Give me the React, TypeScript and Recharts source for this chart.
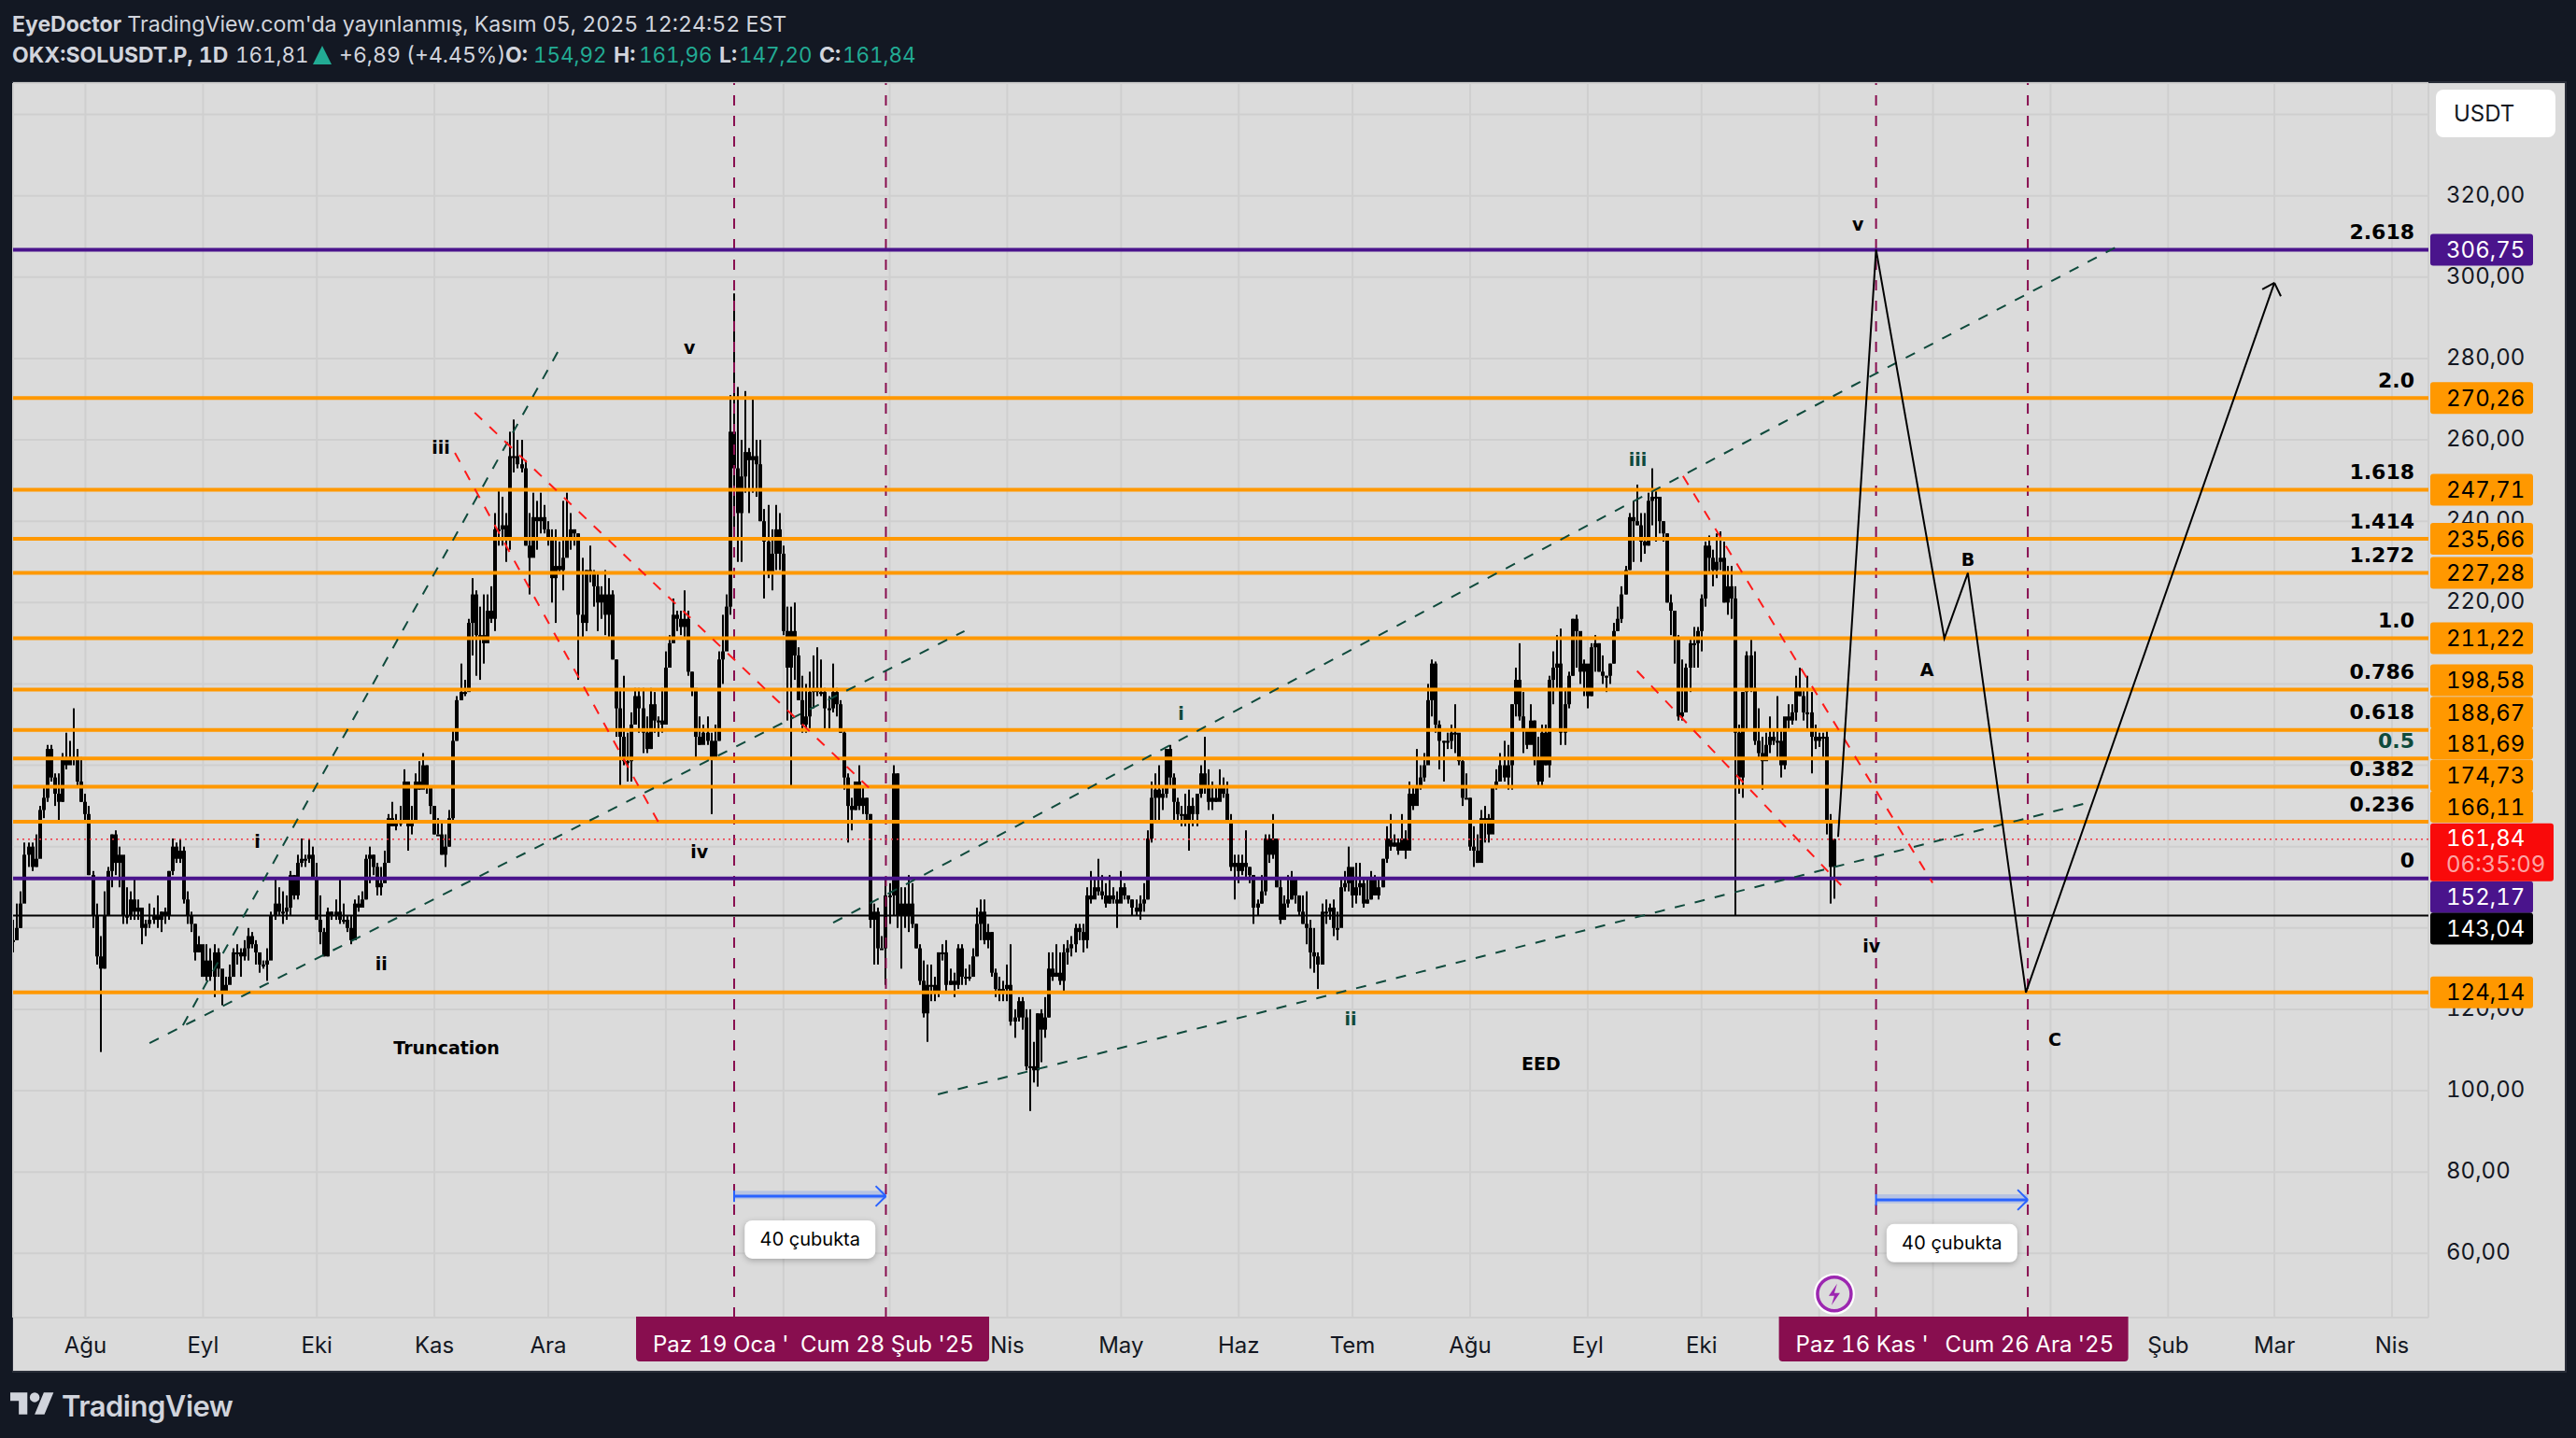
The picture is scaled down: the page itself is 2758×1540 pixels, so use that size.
import { Bar, CartesianGrid, ComposedChart, Line, ReferenceArea, ReferenceDot, ReferenceLine, XAxis, YAxis } from 'recharts';

// Daily candles of SOLUSDT.P. Day 0 is 19 Jan 2025.
const FIRST_DAY = -190;

const closes = [
  137, 140, 146, 158, 160, 155, 157, 169, 172, 184,
  177, 173, 171, 182, 180, 182, 182, 176, 171, 168,
  153, 143, 133, 130, 143, 154, 163, 156, 158, 143,
  143, 147, 144, 145, 140, 141, 142, 143, 142, 144,
  143, 154, 160, 157, 159, 147, 143, 141, 134, 136,
  128, 132, 128, 134, 130, 124, 126, 128, 134, 134,
  133, 135, 138, 136, 134, 131, 131, 132, 143, 146,
  144, 144, 145, 153, 148, 156, 157, 157, 158, 152,
  142, 139, 133, 144, 143, 144, 142, 142, 140, 137,
  146, 145, 147, 157, 158, 155, 150, 151, 156, 167,
  165, 166, 166, 176, 165, 166, 176, 174, 180, 175,
  170, 163, 163, 158, 160, 167, 186, 196, 198, 198,
  215, 222, 212, 212, 210, 218, 216, 238, 238, 239,
  236, 256, 256, 254, 253, 234, 231, 241, 240, 241,
  238, 236, 226, 229, 228, 231, 236, 238, 237, 217,
  215, 228, 227, 224, 220, 222, 217, 222, 206, 194,
  187, 181, 181, 190, 197, 194, 188, 184, 195, 191,
  191, 190, 204, 210, 217, 216, 214, 216, 203, 199,
  187, 185, 188, 186, 182, 186, 206, 208, 219, 262,
  253, 242, 251, 257, 255, 256, 254, 240, 235, 227,
  232, 238, 232, 213, 204, 213, 207, 196, 190, 192,
  198, 199, 198, 198, 194, 194, 198, 195, 188, 177,
  170, 169, 176, 170, 172, 168, 142, 144, 135, 135,
  148, 148, 178, 143, 146, 143, 146, 141, 135, 127,
  119, 126, 126, 124, 134, 134, 126, 127, 126, 135,
  128, 128, 128, 133, 141, 144, 137, 139, 129, 125,
  125, 125, 126, 117, 118, 122, 118, 106, 106, 105,
  119, 115, 118, 130, 128, 129, 127, 134, 135, 136,
  140, 139, 137, 148, 147, 150, 149, 148, 146, 148,
  147, 146, 150, 148, 147, 145, 144, 146, 147, 162,
  172, 174, 172, 173, 184, 177, 171, 168, 168, 166,
  170, 168, 173, 178, 175, 171, 172, 171, 175, 173,
  166, 155, 156, 154, 156, 155, 153, 145, 146, 149,
  162, 158, 162, 150, 142, 146, 147, 152, 148, 144,
  141, 140, 134, 133, 131, 144, 144, 145, 140, 140,
  150, 151, 155, 148, 150, 151, 146, 147, 152, 148,
  150, 157, 162, 160, 161, 159, 162, 159, 173, 170,
  175, 177, 180, 196, 205, 190, 186, 186, 186, 188,
  188, 181, 172, 172, 160, 159, 156, 167, 167, 163,
  175, 176, 180, 177, 180, 195, 201, 192, 189, 185,
  191, 182, 176, 188, 180, 201, 204, 205, 188, 195,
  202, 216, 213, 203, 205, 197, 209, 210, 203, 202,
  202, 205, 213, 216, 222, 228, 241, 240, 239, 235,
  234, 245, 246, 246, 240, 237, 220, 218, 211, 192,
  193, 204, 210, 210, 213, 221, 234, 231, 228, 230,
  231, 220, 224, 221, 188, 177, 198, 207, 199, 186,
  183, 181, 185, 187, 186, 186, 180, 192, 191, 193,
  199, 197, 193, 193, 187, 186, 187, 187, 166, 155, 161.84,
];

const highs = [
  142, 146, 149, 161, 161, 161, 163, 170, 175, 185,
  185, 178, 178, 183, 188, 186, 194, 184, 182, 173,
  170, 154, 146, 138, 149, 155, 163, 164, 160, 155,
  150, 149, 152, 147, 145, 142, 146, 145, 148, 144,
  145, 154, 162, 161, 162, 160, 149, 144, 141, 138,
  135, 136, 135, 136, 135, 128, 128, 131, 135, 136,
  135, 137, 140, 139, 137, 133, 132, 135, 144, 152,
  150, 149, 148, 154, 153, 158, 162, 158, 162, 160,
  156, 148, 140, 145, 144, 147, 152, 146, 143, 143,
  147, 148, 149, 158, 160, 158, 156, 155, 159, 168,
  171, 168, 170, 179, 176, 170, 178, 181, 183, 180,
  175, 170, 167, 166, 163, 169, 189, 197, 205, 201,
  216, 226, 223, 219, 222, 222, 224, 242, 248, 246,
  242, 262, 265, 260, 260, 255, 242, 247, 245, 247,
  244, 240, 238, 238, 235, 245, 247, 242, 238, 237,
  231, 228, 234, 228, 227, 224, 228, 226, 223, 206,
  199, 202, 188, 193, 199, 199, 199, 192, 199, 198,
  192, 199, 208, 212, 221, 218, 218, 223, 218, 203,
  198, 192, 190, 192, 188, 190, 208, 217, 222, 271,
  296, 273, 260, 272, 258, 270, 260, 260, 243, 244,
  238, 244, 242, 234, 219, 219, 220, 209, 202, 200,
  203, 207, 209, 206, 199, 197, 205, 199, 196, 189,
  178, 172, 176, 180, 175, 172, 168, 146, 145, 138,
  152, 151, 180, 178, 150, 150, 153, 151, 141, 136,
  132, 131, 131, 128, 134, 136, 137, 130, 129, 136,
  136, 130, 131, 135, 145, 147, 147, 141, 139, 130,
  128, 127, 131, 136, 120, 123, 123, 120, 120, 112,
  119, 120, 123, 134, 134, 136, 134, 136, 137, 138,
  141, 141, 141, 150, 154, 152, 157, 153, 151, 153,
  150, 149, 154, 151, 148, 147, 147, 148, 151, 164,
  176, 178, 180, 175, 184, 185, 178, 172, 170, 173,
  174, 172, 173, 180, 187, 179, 176, 175, 179, 177,
  176, 168, 158, 158, 158, 164, 155, 153, 147, 153,
  163, 163, 168, 161, 152, 148, 153, 154, 152, 148,
  148, 149, 142, 140, 134, 146, 147, 146, 147, 144,
  152, 154, 160, 154, 156, 156, 152, 152, 154, 153,
  152, 157, 165, 168, 163, 162, 168, 164, 176, 175,
  184, 180, 183, 200, 206, 205.5, 191, 186, 188, 190,
  195, 186, 182, 178, 172, 165, 163, 169, 170, 168,
  175, 179, 183, 186, 185, 195, 204, 210, 198, 189,
  195, 191, 187, 190, 190, 202, 208, 212, 213.6, 199,
  203, 216, 217, 207, 206, 204, 210, 212, 210, 207,
  202, 205, 215, 219, 224, 229, 242, 245, 249, 242,
  242, 247, 253, 248, 242, 240, 237, 222, 216, 212,
  206, 205, 211, 214, 214, 222, 235, 236.5, 233, 237,
  237.5, 235, 229, 229, 224, 190, 198, 208, 211, 208,
  194, 187, 188, 192, 189, 197, 189, 191, 195, 195,
  202, 204, 199, 202, 198, 190, 188, 188, 189, 168, 161.96,
];

const lows = [
  134, 137, 140, 147, 155, 154, 155, 160, 167, 171,
  176, 170, 166, 171, 179, 181, 180, 175, 171, 166,
  153, 140, 131, 109.5, 130, 144, 150, 153, 150, 141,
  141, 142, 142, 142, 136, 138, 140, 141, 140, 139,
  141, 142, 153, 156, 156, 146, 141, 139, 132, 134,
  128, 127, 127, 123, 128, 121, 124, 127, 128, 131,
  128, 132, 132, 135, 131, 129, 130, 127, 134, 142,
  143, 141, 142, 143, 147, 147, 155, 155, 156, 152,
  142, 136, 133, 133, 142, 142, 141, 141, 139, 136,
  138, 144, 145, 147, 151, 153, 148, 148, 152, 158,
  165, 164, 165, 169, 159, 163, 170, 174, 175, 173,
  168, 163, 163, 158, 155, 160, 166, 186, 196, 197,
  200, 207, 202, 201, 205, 212, 215, 213, 234, 234,
  230, 233, 252, 253, 252, 234, 222, 234, 233, 237,
  237, 234, 220, 215, 227, 223, 234, 233, 234, 201,
  211, 213, 225, 219, 213, 216, 212, 211, 206, 187,
  175, 180, 176, 176, 190, 188, 183, 183, 184, 188,
  187, 188, 193, 206, 210, 213, 212, 211, 202, 197,
  182, 185, 186, 185, 168, 183, 186, 200, 209, 217,
  238, 230, 230, 247, 242, 247, 246, 240, 221, 226,
  223, 228, 228, 212, 191, 175, 201, 196, 188, 188,
  189, 194, 197, 197, 189, 189, 193, 192, 188, 174,
  161, 164, 169, 169, 168, 166, 140, 131, 131, 135,
  126, 141, 143, 140, 130, 140, 139, 140, 135, 126,
  118, 112, 122, 122, 123, 132, 124, 126, 123, 125,
  126, 126, 127, 128, 133, 137, 136, 135, 128, 123,
  122, 122, 122, 116, 113, 117, 115, 105, 95, 102,
  101, 107, 113, 118, 127, 128, 126, 124, 131, 133,
  134, 137, 134, 135, 146, 148, 148, 147, 145, 146,
  146, 140, 147, 147, 146, 143, 143, 142, 144, 147,
  161, 166, 166, 169, 172, 175, 166, 166, 165, 165,
  159, 165, 165, 172, 173, 169, 169, 171, 172, 172,
  166, 154, 147, 151, 153, 152, 151, 141, 143, 146,
  148, 156, 157, 150, 141, 142, 145, 147, 146, 143,
  141, 136, 130, 129, 125, 131, 141, 142, 138, 137,
  141, 149, 149, 145, 146, 148, 145, 146, 147, 148,
  147, 150, 156, 159, 160, 158, 160, 157, 163, 169,
  173, 174, 176, 181, 192, 188, 179, 176, 184, 184,
  183, 180, 170, 172, 159, 155, 156, 161, 161, 161,
  167, 174, 176, 176, 174, 174, 192, 191, 183, 184,
  187, 180, 175, 175, 180, 177, 195, 199, 185, 185,
  194, 202, 204, 200, 197, 194, 197, 203, 203, 200,
  198, 200, 205, 213, 215, 222, 228, 230, 239, 230,
  232, 234, 239, 235, 237, 235, 220, 212, 205, 191,
  191, 198, 198, 204, 204, 208, 219, 227, 224, 226,
  228, 220, 217, 216, 143, 173, 172, 189, 198, 185,
  182, 174, 182, 183, 185, 182, 177, 179, 189, 190,
  191, 197, 191, 189, 178, 184, 184.5, 182, 163, 146, 147.2,
];

// Month ticks of the time axis, day number and label. Empty labels sit under the date tags.
const monthDays = [-171, -140, -110, -79, -49, -18, 13, 41, 72, 102, 133, 163, 194, 225, 255, 286, 316, 347, 378, 406, 437];
const monthNames = ['Ağu', 'Eyl', 'Eki', 'Kas', 'Ara', '', '', '', 'Nis', 'May', 'Haz', 'Tem', 'Ağu', 'Eyl', 'Eki', '', '', '', 'Şub', 'Mar', 'Nis'];

const priceTicks = [60, 80, 100, 120, 140, 160, 180, 200, 220, 240, 260, 280, 300, 320, 340];
const hiddenPriceTicks = [140, 160, 180, 200, 340];

// Fibonacci levels drawn across the chart
const fibNames = ['2.618', '2.0', '1.618', '1.414', '1.272', '1.0', '0.786', '0.618', '0.5', '0.382', '0.236', '0'];
const fibPrices = [306.75, 270.26, 247.71, 235.66, 227.28, 211.22, 198.58, 188.67, 181.69, 174.73, 166.11, 152.17];
const LOW_LEVEL = 124.14;
const WICK_LEVEL = 143.04;
const LAST_PRICE = 161.84;

// Dashed vertical markers, in days
const timeMarkers = [0, 40, 301, 341];

// Drawn lines: start day, start price, end day, end price
const greenTrends = [
  [-145.3, 116.1, -46.5, 281.6],
  [-154.1, 111.7, 60.7, 213],
  [26.1, 141.3, 364.1, 307.3],
  [53.7, 99.1, 357.3, 170.9],
];
const redTrends = [
  [-73.6, 256.8, -19.9, 165.9],
  [-68.4, 266.7, 35.5, 174.5],
  [250.1, 251.1, 315.9, 151.1],
  [238, 203.2, 291.8, 150.5],
];

// Projected path
const pathDays = [291, 301, 319, 325.2, 340.5, 406];
const pathPrices = [162.4, 306.75, 211.22, 227.28, 124.14, 298.6];
const arrowWings = [
  [402.8, 297],
  [407.7, 295.3],
];

// Wave labels: text, day, price
const blackWaves: [string, number, number][] = [
  ['v', -11.8, 282.8],
  ['iii', -77.3, 258.2],
  ['i', -125.7, 161.2],
  ['ii', -93, 131.3],
  ['iv', -9.2, 158.8],
  ['Truncation', -75.8, 110.5],
  ['iv', 299.8, 135.6],
  ['v', 296.2, 313],
  ['A', 314.4, 203.6],
  ['B', 325.2, 230.6],
  ['C', 348.1, 112.6],
  ['EED', 212.7, 106.6],
];
const greenWaves: [string, number, number][] = [
  ['i', 117.8, 192.8],
  ['ii', 162.5, 117.7],
  ['iii', 238.2, 255.3],
];

// 40 bar range measures
const rangeStarts = [0, 301];
const rangeEnds = [40, 341];
const rangePrices = [74.06, 73.15];
const rangeBandTops = [75.4, 74.5];
const rangeBandBottoms = [73.3, 72.3];
const rangeNotePrices = [63.4, 62.5];

const BG = '#131823';
const PANE = '#dbdbdb';
const GRID = '#cfcfcf';
const ORANGE = '#ff9800';
const PURPLE = '#4a148c';
const MAROON = '#880e4f';
const TREND_GREEN = '#0f4a3c';
const TREND_RED = '#ff1a1a';
const BLUE = '#2962ff';
const TEAL = '#22ab94';
const HEADER = '#d1d4dc';
const SANS = 'Inter, Roboto, sans-serif';
const LABEL_FONT = '"DejaVu Sans", sans-serif';

// Shared axis ranges, so the tag overlay lines up with the chart underneath
const DAY_DOMAIN: [number, number] = [-190.07, 446.6];
const PRICE_DOMAIN: [number, number] = [44.22, 347.71];

// Tags on the price scale are pushed apart so they do not overlap
const tagShift: Record<string, number> = { '0.786': -10, '0.618': -18.6, '0.5': -16, '0.382': -12, '0.236': -16, '0': 20 };

const candles = closes.map((close, i) => ({
  day: FIRST_DAY + i,
  open: i === 0 ? close : closes[i - 1],
  high: highs[i],
  low: lows[i],
  close,
  range: [lows[i], highs[i]],
}));

const pathPoints = pathDays.map((day, i) => ({ day, price: pathPrices[i] }));

const money = (v: number) => v.toFixed(2).replace('.', ',');

function CandleShape({ x, y, width, height, payload }: any) {
  const cx = Math.round(x + width / 2);
  const perUnit = Math.abs(height) / (payload.high - payload.low || 1);
  const toY = (v: number) => y + (payload.high - v) * perUnit;
  const top = toY(Math.max(payload.open, payload.close));
  const bottom = toY(Math.min(payload.open, payload.close));
  return (
    <g>
      <rect x={cx - 1} y={y} width={2} height={Math.abs(height)} fill="#000" />
      <rect x={cx - 2} y={top} width={4} height={Math.max(bottom - top, 2)} fill="#000" />
    </g>
  );
}

function PriceTag({ viewBox, text, fill, color, shift = 0 }: any) {
  const cy = viewBox.y + shift;
  return (
    <g>
      <rect x={2602} y={cy - 17} width={110} height={34} rx={3} fill={fill} />
      <text x={2619} y={cy} fontSize={24} fontFamily={SANS} fill={color} dominantBaseline="central">{text}</text>
    </g>
  );
}

function FibTag({ viewBox, name, price, purple }: any) {
  const y = viewBox.y;
  return (
    <g>
      <text x={2585} y={y - 19} textAnchor="end" fontSize={22} fontWeight={700} fontFamily={LABEL_FONT} fill={name === '0.5' ? TREND_GREEN : '#000'} dominantBaseline="central">{name}</text>
      <PriceTag viewBox={viewBox} text={money(price)} fill={purple ? PURPLE : ORANGE} color={purple ? '#fff' : '#000'} shift={tagShift[name] ?? 0} />
    </g>
  );
}

function LastPriceTag({ viewBox }: any) {
  const y = viewBox.y;
  return (
    <g>
      <rect x={2602} y={y - 17} width={132} height={62} rx={3} fill="#f90a0a" />
      <text x={2619} y={y - 1} fontSize={24} fontFamily={SANS} fill="#fff" dominantBaseline="central">{money(LAST_PRICE)}</text>
      <text x={2619} y={y + 27} fontSize={24} fontFamily={SANS} fill="#ffffff" fillOpacity={0.65} dominantBaseline="central">06:35:09</text>
    </g>
  );
}

function DateTag({ viewBox, first, second, boxLeft, boxWidth, firstAt, secondAt }: any) {
  return (
    <g>
      <path
        d={`M${viewBox.x + boxLeft} 1410h${boxWidth}v44a4 4 0 0 1 -4 4h-${boxWidth - 8}a4 4 0 0 1 -4 -4z`}
        fill={MAROON}
      />
      <text x={viewBox.x + firstAt} y={1439} fontSize={24} fontFamily={SANS} fill="#fff" dominantBaseline="central">{first}</text>
      <text x={viewBox.x + secondAt} y={1439} fontSize={24} fontFamily={SANS} fill="#fff" dominantBaseline="central">{second}</text>
    </g>
  );
}

function WaveLabel({ cx, cy, text, color }: any) {
  return (
    <text x={cx} y={cy} textAnchor="middle" fontSize={19} fontWeight={700} fontFamily={LABEL_FONT} fill={color} dominantBaseline="central">{text}</text>
  );
}

function NoteBubble({ cx, cy }: any) {
  return (
    <g>
      <rect x={cx - 70} y={cy - 20.5} width={140} height={41} rx={8} fill="#fff" style={{ filter: 'drop-shadow(0 2px 3px rgba(0,0,0,0.25))' }} />
      <text x={cx} y={cy} textAnchor="middle" fontSize={20} fontFamily={SANS} fill="#000" dominantBaseline="central">40 çubukta</text>
    </g>
  );
}

function BoltIcon({ cx, cy }: any) {
  return (
    <g>
      <circle cx={cx} cy={cy} r={22} fill="#fff" />
      <circle cx={cx} cy={cy} r={18} fill={PANE} stroke="#9c27b0" strokeWidth={3.5} />
      <path d={`M${cx + 3} ${cy - 11}l-9 13h6l-3 10l9 -13h-6z`} fill="#9c27b0" />
    </g>
  );
}

function TrendSegment(line: number[], stroke: string, key: string) {
  return (
    <ReferenceLine
      key={key}
      segment={[{ x: line[0], y: line[1] }, { x: line[2], y: line[3] }]}
      stroke={stroke}
      strokeWidth={2}
      strokeDasharray="11 11"
    />
  );
}

export default function App() {
  return (
    <div style={{ position: 'absolute', left: 0, top: 0, width: 2758, height: 1540, background: BG, overflow: 'hidden', fontFamily: SANS, fontVariantNumeric: 'tabular-nums' }}>
      {/* Publisher line */}
      <div style={{ position: 'absolute', left: 13, top: 11, fontSize: 23.2, lineHeight: '30px', color: HEADER, whiteSpace: 'nowrap' }}>
        <b style={{ fontSize: 23 }}>EyeDoctor</b> TradingView.com'da yayınlanmış, Kasım 05, 2025 12:24:52 EST
      </div>

      {/* Symbol line */}
      <div style={{ position: 'absolute', left: 13, top: 44, fontSize: 22.4, lineHeight: '30px', color: HEADER, whiteSpace: 'nowrap' }}>
        <b style={{ fontSize: 23 }}>OKX:SOLUSDT.P, 1D</b>
        <span style={{ position: 'absolute', left: 239 }}>161,81</span>
        <svg style={{ position: 'absolute', left: 322, top: 5 }} width={20} height={20}><path d="M10 0L20 20H0z" fill={TEAL} /></svg>
        <span style={{ position: 'absolute', left: 350, fontSize: 23 }}>+6,89 (+4.45%)</span>
        <b style={{ position: 'absolute', left: 528, fontSize: 23 }}>O:</b>
        <span style={{ position: 'absolute', left: 558, color: TEAL }}>154,92</span>
        <b style={{ position: 'absolute', left: 644, fontSize: 23 }}>H:</b>
        <span style={{ position: 'absolute', left: 671, color: TEAL }}>161,96</span>
        <b style={{ position: 'absolute', left: 757, fontSize: 23 }}>L:</b>
        <span style={{ position: 'absolute', left: 778, color: TEAL }}>147,20</span>
        <b style={{ position: 'absolute', left: 864, fontSize: 23 }}>C:</b>
        <span style={{ position: 'absolute', left: 889, color: TEAL }}>161,84</span>
      </div>

      {/* Chart pane */}
      <div style={{ position: 'absolute', left: 13, top: 87, width: 2732, height: 1379, background: PANE, border: '2px solid #2a2e39', borderLeftWidth: 1 }} />

      <div style={{ position: 'absolute', left: 0, top: 0 }}>
        <ComposedChart width={2758} height={1540} data={candles} margin={{ left: 14, top: 89, right: 13, bottom: 74 }}>
          <CartesianGrid stroke={GRID} strokeWidth={2} />
          <XAxis
            dataKey="day"
            type="number"
            domain={DAY_DOMAIN}
            allowDataOverflow
            ticks={monthDays}
            interval={0}
            height={55}
            axisLine={false}
            tickLine={false}
            tickSize={0}
            tickMargin={21}
            tickFormatter={(d: number) => monthNames[monthDays.indexOf(d)]}
            tick={{ fontSize: 24, fontFamily: SANS, fill: '#131722' }}
          />
          <YAxis
            orientation="right"
            type="number"
            domain={PRICE_DOMAIN}
            allowDataOverflow
            ticks={priceTicks}
            interval={0}
            width={145}
            axisLine={false}
            tickLine={false}
            tickSize={0}
            tickMargin={19}
            tickFormatter={(v: number) => (hiddenPriceTicks.includes(v) ? '' : money(v))}
            tick={{ fontSize: 24, fontFamily: SANS, fill: '#131722', textAnchor: 'start', dy: -1.5 }}
          />

          <Bar dataKey="range" barSize={4} shape={CandleShape} isAnimationActive={false} />

          {timeMarkers.map((day) => (
            <ReferenceLine key={`marker-${day}`} x={day} stroke={MAROON} strokeWidth={2} strokeDasharray="11 11" />
          ))}

          {fibNames.map((name, i) => {
            const purple = name === '2.618' || name === '0';
            return <ReferenceLine key={name} y={fibPrices[i]} stroke={purple ? PURPLE : ORANGE} strokeWidth={4} />;
          })}
          <ReferenceLine y={LOW_LEVEL} stroke={ORANGE} strokeWidth={4} />
          <ReferenceLine y={WICK_LEVEL} stroke="#000" strokeWidth={2} />
          <ReferenceLine y={LAST_PRICE} stroke="#f23645" strokeWidth={1.5} strokeDasharray="2 4" />

          {greenTrends.map((line, i) => TrendSegment(line, TREND_GREEN, `green-${i}`))}
          {redTrends.map((line, i) => TrendSegment(line, TREND_RED, `red-${i}`))}

          {/* Projected path and its arrow head */}
          <Line data={pathPoints} dataKey="price" stroke="#000" strokeWidth={2} dot={false} isAnimationActive={false} />
          {arrowWings.map((wing, i) => (
            <ReferenceLine
              key={`wing-${i}`}
              segment={[{ x: wing[0], y: wing[1] }, { x: pathDays[5], y: pathPrices[5] }]}
              stroke="#000"
              strokeWidth={2}
            />
          ))}

          {/* 40 bar range measures */}
          {rangeStarts.map((start, i) => (
            <ReferenceArea key={`band-${i}`} x1={start} x2={rangeEnds[i]} y1={rangeBandBottoms[i]} y2={rangeBandTops[i]} fill={BLUE} fillOpacity={0.2} stroke="none" />
          ))}
          {rangeStarts.map((start, i) => (
            <ReferenceLine key={`range-${i}`} segment={[{ x: start, y: rangePrices[i] }, { x: rangeEnds[i], y: rangePrices[i] }]} stroke={BLUE} strokeWidth={3} />
          ))}
          {rangeStarts.map((start, i) => (
            <ReferenceLine key={`range-start-${i}`} segment={[{ x: start, y: rangePrices[i] + 1.4 }, { x: start, y: rangePrices[i] - 1.4 }]} stroke={BLUE} strokeWidth={2} />
          ))}
          {rangeEnds.map((end, i) => (
            <ReferenceLine key={`tip-up-${i}`} segment={[{ x: end - 2.7, y: rangePrices[i] + 2.5 }, { x: end, y: rangePrices[i] }]} stroke={BLUE} strokeWidth={2} />
          ))}
          {rangeEnds.map((end, i) => (
            <ReferenceLine key={`tip-down-${i}`} segment={[{ x: end - 2.7, y: rangePrices[i] - 2.5 }, { x: end, y: rangePrices[i] }]} stroke={BLUE} strokeWidth={2} />
          ))}
          {rangeStarts.map((start, i) => (
            <ReferenceDot key={`note-${i}`} x={start + 20} y={rangeNotePrices[i]} r={0} shape={NoteBubble} />
          ))}

          {blackWaves.map(([text, day, price], i) => (
            <ReferenceDot key={`wave-${i}`} x={day} y={price} r={0} shape={(p: any) => <WaveLabel {...p} text={text} color="#000" />} />
          ))}
          {greenWaves.map(([text, day, price], i) => (
            <ReferenceDot key={`green-wave-${i}`} x={day} y={price} r={0} shape={(p: any) => <WaveLabel {...p} text={text} color={TREND_GREEN} />} />
          ))}

          <ReferenceDot x={290} y={50} r={0} shape={BoltIcon} />
        </ComposedChart>
      </div>

      {/* Second chart on top, so the scale tags cover the axis ticks as they do in TradingView */}
      <div style={{ position: 'absolute', left: 0, top: 0 }}>
        <ComposedChart width={2758} height={1540} data={candles} margin={{ left: 14, top: 89, right: 158, bottom: 129 }}>
          <XAxis dataKey="day" type="number" domain={DAY_DOMAIN} allowDataOverflow hide />
          <YAxis type="number" domain={PRICE_DOMAIN} allowDataOverflow hide />
          {fibNames.map((name, i) => {
            const purple = name === '2.618' || name === '0';
            return (
              <ReferenceLine
                key={name}
                y={fibPrices[i]}
                stroke="none"
                label={<FibTag name={name} price={fibPrices[i]} purple={purple} />}
              />
            );
          })}
          <ReferenceLine y={LOW_LEVEL} stroke="none" label={<PriceTag text={money(LOW_LEVEL)} fill={ORANGE} color="#000" />} />
          <ReferenceLine y={WICK_LEVEL} stroke="none" label={<PriceTag text={money(WICK_LEVEL)} fill="#000" color="#fff" shift={14} />} />
          <ReferenceLine y={LAST_PRICE} stroke="none" label={<LastPriceTag />} />

          {/* Date tags on the time axis */}
          <ReferenceLine
            x={timeMarkers[0]}
            stroke="none"
            label={<DateTag first="Paz 19 Oca '" second="Cum 28 Şub '25" boxLeft={-105} boxWidth={378} firstAt={-87} secondAt={71} />}
          />
          <ReferenceLine
            x={timeMarkers[2]}
            stroke="none"
            label={<DateTag first="Paz 16 Kas '" second="Cum 26 Ara '25" boxLeft={-104} boxWidth={374} firstAt={-86} secondAt={74} />}
          />
        </ComposedChart>
      </div>

      {/* Currency button */}
      <div style={{ position: 'absolute', left: 2608, top: 96, width: 128, height: 51, background: '#fff', borderRadius: 8, color: '#131722', fontSize: 24, lineHeight: '51px', paddingLeft: 19, boxSizing: 'border-box' }}>
        USDT
      </div>

      {/* Footer logo */}
      <svg style={{ position: 'absolute', left: 11, top: 1486 }} width={47} height={30} viewBox="0 0 36 23">
        <path d="M14 22H7V11H0V4h14v18zM28 22h-8l7.5-18h8L28 22z" fill={HEADER} />
        <circle cx={20} cy={8} r={4} fill={HEADER} />
      </svg>
      <div style={{ position: 'absolute', left: 66, top: 1487, fontSize: 31, lineHeight: '38px', fontWeight: 600, letterSpacing: -0.5, color: HEADER }}>
        TradingView
      </div>
    </div>
  );
}
